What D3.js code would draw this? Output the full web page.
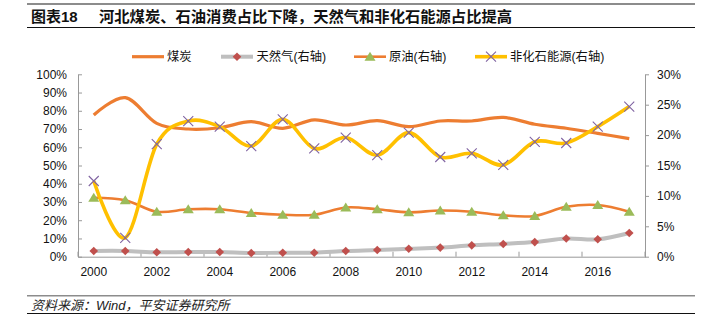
<!DOCTYPE html>
<html><head><meta charset="utf-8">
<script src="https://cdn.jsdelivr.net/npm/d3@7/dist/d3.min.js"></script>
<style>body{margin:0;background:#fff}svg{display:block}</style>
</head><body>
<script>
// ---- data ----
const years = [2000,2001,2002,2003,2004,2005,2006,2007,2008,2009,2010,2011,2012,2013,2014,2015,2016,2017];
const coal = [0.777,0.872,0.731,0.700,0.707,0.740,0.704,0.750,0.722,0.746,0.713,0.744,0.744,0.764,0.726,0.704,0.676,0.647];
const gas = [0.0094,0.0094,0.0072,0.0077,0.0077,0.0060,0.0066,0.0066,0.0094,0.0110,0.0130,0.0150,0.0187,0.0210,0.0240,0.0300,0.0286,0.0390];
const oil = [0.097,0.093,0.074,0.078,0.078,0.072,0.069,0.069,0.081,0.078,0.073,0.076,0.074,0.068,0.067,0.082,0.085,0.074];
const nonFossil = [0.1245,0.031,0.185,0.223,0.214,0.182,0.226,0.178,0.196,0.167,0.204,0.164,0.170,0.151,0.189,0.187,0.214,0.247];
const leftTicks = [0,0.1,0.2,0.3,0.4,0.5,0.6,0.7,0.8,0.9,1.0];
const rightTicks = [0,0.05,0.10,0.15,0.20,0.25,0.30];
const xLabelYears = [2000,2002,2004,2006,2008,2010,2012,2014,2016];
const seriesNames = ["煤炭","天然气(右轴)","原油(右轴)","非化石能源(右轴)"];
const titleText = "图表18";
const titleMain = "河北煤炭、石油消费占比下降，天然气和非化石能源占比提高";
const sourceText = "资料来源：Wind，平安证券研究所";

// ---- layout ----
const W = 704, H = 332;
const L = 78, R = 645, T = 74.3, B = 256.7;
const font = "'Liberation Sans', Arial, 'Noto Sans CJK SC', sans-serif";
const svg = d3.select("body").append("svg").attr("width", W).attr("height", H)
  .style("font-family", font);

// header / footer rules
svg.append("rect").attr("x",27).attr("y",3).attr("width",668).attr("height",2).attr("fill","#8c8c8c");
svg.append("line").attr("x1",27).attr("x2",695).attr("y1",27.5).attr("y2",27.5).attr("stroke","#111").attr("stroke-width",1);
svg.append("text").attr("x",31).attr("y",21.5).attr("font-size",15).attr("font-weight","bold").attr("fill","#111").text(titleText);
svg.append("text").attr("x",99).attr("y",21.5).attr("font-size",15.3).attr("font-weight","bold").attr("fill","#111").text(titleMain);

svg.append("rect").attr("x",27).attr("y",295).attr("width",668).attr("height",1.5).attr("fill","#8c8c8c");
svg.append("line").attr("x1",27).attr("x2",695).attr("y1",313.5).attr("y2",313.5).attr("stroke","#111").attr("stroke-width",1);
svg.append("text").attr("x",31).attr("y",309.5).attr("font-size",13).attr("font-style","italic").attr("fill","#222").text(sourceText);

// ---- scales ----
const x = d3.scaleBand().domain(years).range([L, R]).paddingInner(0).paddingOuter(0);
const cx = d => x(d) + x.bandwidth()/2;
const yL = d3.scaleLinear().domain([0,1]).range([B, T]);
const yR = d3.scaleLinear().domain([0,0.30]).range([B, T]);

const axisColor = "#999";
// left axis
const gL = svg.append("g").attr("transform",`translate(${L},0)`)
  .call(d3.axisLeft(yL).tickValues(leftTicks).tickFormat(d3.format(".0%")).tickSizeInner(-4).tickSizeOuter(0).tickPadding(11));
// right axis
const gR = svg.append("g").attr("transform",`translate(${R},0)`)
  .call(d3.axisRight(yR).tickValues(rightTicks).tickFormat(d3.format(".0%")).tickSizeInner(4).tickSizeOuter(0).tickPadding(8));
// bottom axis
const gB = svg.append("g").attr("transform",`translate(0,${B})`)
  .call(d3.axisBottom(x).tickValues(xLabelYears).tickSizeInner(0).tickSizeOuter(0).tickPadding(11));
// x ticks at category boundaries every two years
const bTicks = xLabelYears.map(y => x(y)).concat([R]);
gB.selectAll("line.bt").data(bTicks).enter().append("line").attr("class","bt")
  .attr("x1",d=>d).attr("x2",d=>d).attr("y1",0).attr("y2",-5).attr("stroke",axisColor);

[gL,gR,gB].forEach(g=>{
  g.select(".domain").attr("stroke",axisColor);
  g.selectAll(".tick line").attr("stroke",axisColor);
  g.selectAll("text").attr("font-size",12).attr("fill","#111").style("font-family",font);
});

// ---- series ----
const curve = d3.curveCatmullRom.alpha(0);
function lineGen(ys, scale){ return d3.line().x((d,i)=>cx(years[i])).y(d=>scale(d)).curve(curve)(ys); }

const cCoal = "#ED7D31", cGas = "#BFBFBF", cGasM = "#C0504D", cOil = "#ED7D31", cOilM = "#9BBB59", cNF = "#FFC000", cNFM = "#8064A2";

svg.append("path").attr("d", lineGen(coal, yL)).attr("fill","none").attr("stroke",cCoal).attr("stroke-width",3.2);
svg.append("path").attr("d", lineGen(gas, yR)).attr("fill","none").attr("stroke",cGas).attr("stroke-width",4);
svg.append("path").attr("d", lineGen(oil, yR)).attr("fill","none").attr("stroke",cOil).attr("stroke-width",2.6);
svg.append("path").attr("d", lineGen(nonFossil, yR)).attr("fill","none").attr("stroke",cNF).attr("stroke-width",3.6);

function diamondPath(s){ return `M0,${-s}L${s},0L0,${s}L${-s},0Z`; }
function triPath(s){ return `M0,${-s}L${s*1.1},${s*0.8}L${-s*1.1},${s*0.8}Z`; }
function xPath(s){ return `M${-s},${-s}L${s},${s}M${-s},${s}L${s},${-s}`; }

svg.append("g").selectAll("path").data(gas).enter().append("path")
  .attr("transform",(d,i)=>`translate(${cx(years[i])},${yR(d)})`).attr("d",diamondPath(4.3)).attr("fill",cGasM);
svg.append("g").selectAll("path").data(oil).enter().append("path")
  .attr("transform",(d,i)=>`translate(${cx(years[i])},${yR(d)})`).attr("d",triPath(5)).attr("fill",cOilM);
svg.append("g").selectAll("path").data(nonFossil).enter().append("path")
  .attr("transform",(d,i)=>`translate(${cx(years[i])},${yR(d)})`).attr("d",xPath(5)).attr("fill","none").attr("stroke",cNFM).attr("stroke-width",1.1);

// ---- legend ----
const ly = 56.7;
const legend = [
  {x0:132, color:cCoal, w:3.2, marker:null, tx:167},
  {x0:221, color:cGas, w:4, marker:"d", tx:256.5},
  {x0:354, color:cOil, w:2.6, marker:"t", tx:389},
  {x0:475, color:cNF, w:3.6, marker:"x", tx:510}
];
legend.forEach((d,i)=>{
  svg.append("line").attr("x1",d.x0).attr("x2",d.x0+32).attr("y1",ly).attr("y2",ly).attr("stroke",d.color).attr("stroke-width",d.w);
  const mx = d.x0+16;
  if(d.marker==="d") svg.append("path").attr("transform",`translate(${mx},${ly})`).attr("d",diamondPath(4.3)).attr("fill",cGasM);
  if(d.marker==="t") svg.append("path").attr("transform",`translate(${mx},${ly})`).attr("d",triPath(5)).attr("fill",cOilM);
  if(d.marker==="x") svg.append("path").attr("transform",`translate(${mx},${ly})`).attr("d",xPath(5)).attr("fill","none").attr("stroke",cNFM).attr("stroke-width",1.1);
  svg.append("text").attr("x",d.tx).attr("y",ly+4.5).attr("font-size",12.3).attr("fill","#111").text(seriesNames[i]);
});
</script>
</body></html>
